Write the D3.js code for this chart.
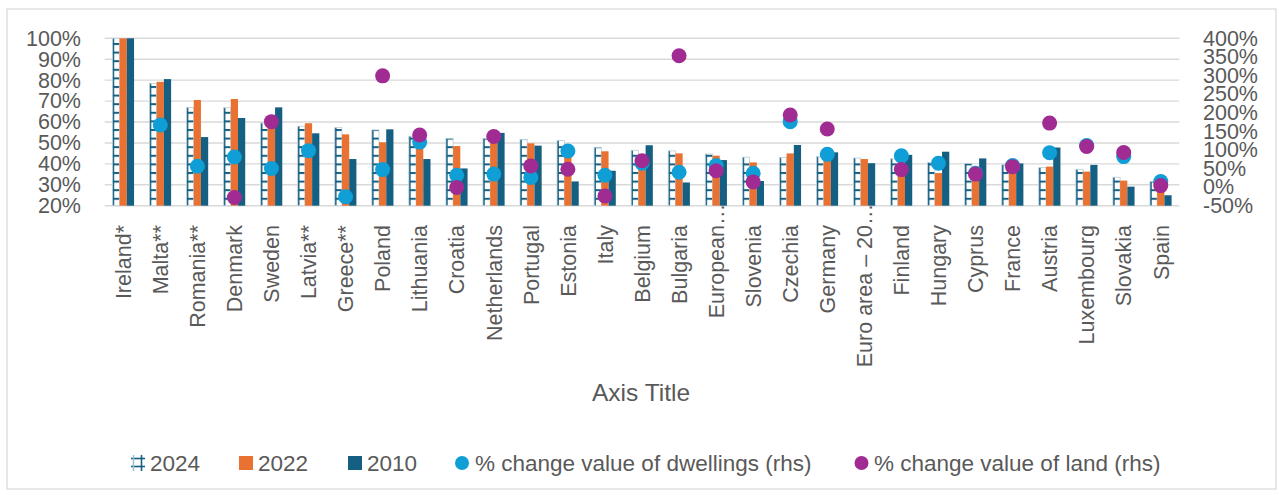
<!DOCTYPE html>
<html><head><meta charset="utf-8">
<script src="https://cdn.jsdelivr.net/npm/d3@7/dist/d3.min.js"></script>
<style>
html,body{margin:0;padding:0;background:#fff;}
svg{display:block;font-family:"Liberation Sans",Arial,sans-serif;}
</style></head>
<body>
<svg id="chart" width="1279" height="495"></svg>
<script>
const categories = ["Ireland*","Malta**","Romania**","Denmark","Sweden","Latvia**","Greece**","Poland","Lithuania","Croatia","Netherlands","Portugal","Estonia","Italy","Belgium","Bulgaria","European…","Slovenia","Czechia","Germany","Euro area – 20…","Finland","Hungary","Cyprus","France","Austria","Luxembourg","Slovakia","Spain"];
const v2024 = [100,78.5,67,66.8,59.5,58,57.3,56.2,53.2,52.2,52.2,51.6,51.2,47.9,46.5,46.2,44.7,43.2,43,43.4,42.8,42.4,40.7,40.2,39.5,38.2,37.4,33.6,31.5];
const v2022 = [100,79.2,70.5,71,62,59.4,54.1,50.3,51,48.5,53,49.8,48,46,43,45,43.9,40.7,45,46,42.3,40,35.6,35,37,38.7,36.3,32,28];
const v2010 = [100,80.5,52.8,61.9,67,54.6,42.3,56.5,42.3,37.8,54.8,48.7,31.6,36.7,48.9,31.1,41.8,31.8,49,45.5,40.3,44.3,45.8,42.6,40.2,47.8,39.5,29.1,25];
const dwellings = [null,167,56,81,50,98,-26,47,121,32,35,26,97,32,64,40,58,37,176,88,null,84,64,37,58,92.5,112,82,15];
const land = [null,null,null,-28,176,null,null,299,140,-1,136,57,48,-24,71,353,44,14,194,156,null,47,null,35,55,172,109,93,4];
const leftTicks = [20,30,40,50,60,70,80,90,100];
const rightTicks = [-50,0,50,100,150,200,250,300,350,400];
const barSeries = ["2024","2022","2010"];
const legendLabels = ["2024","2022","2010","% change value of dwellings (rhs)","% change value of land (rhs)"];
const axisTitle = "Axis Title";

const C = {orange:"#E97132", dark:"#156082", blue:"#0F9ED5", purple:"#A02B93", grid:"#d9d9d9", text:"#595959"};

const svg = d3.select("#chart");
svg.append("rect").attr("width",1279).attr("height",495).attr("fill","#fff");
svg.append("rect").attr("x",7).attr("y",9).attr("width",1269).attr("height",480)
  .attr("fill","none").attr("stroke","#d9d9d9").attr("stroke-width",1.2);

const defs = svg.append("defs");
const pat = defs.append("pattern").attr("id","p2024").attr("patternUnits","userSpaceOnUse")
  .attr("width",8.6).attr("height",8.6);
pat.append("rect").attr("width",8.6).attr("height",8.6).attr("fill","#fff");
pat.append("rect").attr("x",0).attr("y",0).attr("width",8.6).attr("height",2).attr("fill",C.dark);
pat.append("rect").attr("x",0).attr("y",0).attr("width",1.8).attr("height",8.6).attr("fill",C.dark);

const x = d3.scaleBand().domain(categories).range([104.7,1179.3]).paddingInner(0.415).paddingOuter(0.2075);
const xs = d3.scaleBand().domain(barSeries).range([0,x.bandwidth()]);
const yL = d3.scaleLinear().domain([20,100]).range([205.7,38.3]);
const yR = d3.scaleLinear().domain([-50,400]).range([205.7,38.3]);

// gridlines
svg.append("g").selectAll("line").data(leftTicks).join("line")
  .attr("x1",104.7).attr("x2",1179.3).attr("y1",d=>yL(d)).attr("y2",d=>yL(d))
  .attr("stroke",C.grid).attr("stroke-width",1.4);

// left axis
const gl = svg.append("g").attr("transform","translate(81,0)")
  .call(d3.axisLeft(yL).tickValues(leftTicks).tickFormat(d=>d+"%").tickSize(0).tickPadding(0));
gl.select(".domain").remove();
gl.selectAll("text").attr("font-size",21.5).attr("fill",C.text).attr("font-family","Liberation Sans, Arial, sans-serif");

// right axis
const gr = svg.append("g").attr("transform","translate(1203,0)")
  .call(d3.axisRight(yR).tickValues(rightTicks).tickFormat(d=>d+"%").tickSize(0).tickPadding(0));
gr.select(".domain").remove();
gr.selectAll("text").attr("font-size",21.5).attr("fill",C.text).attr("font-family","Liberation Sans, Arial, sans-serif");

// bars
const rows = categories.map((c,i)=>({c, vals:[v2024[i],v2022[i],v2010[i]], dw:dwellings[i], ld:land[i]}));
const groups = svg.append("g").selectAll("g").data(rows).join("g")
  .attr("transform",d=>`translate(${x(d.c)},0)`);
groups.selectAll("rect").data(d=>d.vals.map((v,j)=>({s:barSeries[j],v}))).join("rect")
  .attr("x",d=>xs(d.s)).attr("width",xs.bandwidth())
  .attr("y",d=>yL(d.v)).attr("height",d=>yL(20)-yL(d.v))
  .attr("fill",d=>d.s==="2024"?"url(#p2024)":d.s==="2022"?C.orange:C.dark)
  .attr("stroke",d=>d.s==="2024"?"#b9cdd8":"none").attr("stroke-width",0.8);

// dots
const r = 7.5;
svg.append("g").selectAll("circle").data(rows.filter(d=>d.dw!==null)).join("circle")
  .attr("cx",d=>x(d.c)+x.bandwidth()/2).attr("cy",d=>yR(d.dw)).attr("r",r).attr("fill",C.blue);
svg.append("g").selectAll("circle").data(rows.filter(d=>d.ld!==null)).join("circle")
  .attr("cx",d=>x(d.c)+x.bandwidth()/2).attr("cy",d=>yR(d.ld)).attr("r",r).attr("fill",C.purple);

// category labels
const lab = svg.append("g").selectAll("text").data(categories).join("text")
  .attr("text-anchor","end").attr("dy","0.36em")
  .attr("font-size",21.5).attr("fill",C.text).text(d=>d);
const tmp = svg.append("text").attr("font-size",21.5).text("…");
const ellW = tmp.node().getComputedTextLength(); tmp.remove();
lab.attr("transform",d=>{
  const cx = x(d)+x.bandwidth()/2;
  const yy = d.endsWith("…") ? 225 - ellW : 225;
  return `translate(${cx},${yy}) rotate(-90)`;
});

// axis title
svg.append("text").attr("x",641).attr("y",392).attr("text-anchor","middle").attr("dominant-baseline","central")
  .attr("font-size",24.5).attr("fill",C.text).text(axisTitle);

// legend
const ly = 463;
const lg = svg.append("g");
lg.append("line").attr("x1",131).attr("x2",145).attr("y1",458.5).attr("y2",458.5).attr("stroke",C.dark).attr("stroke-width",1.6);
lg.append("line").attr("x1",131).attr("x2",145).attr("y1",466.5).attr("y2",466.5).attr("stroke",C.dark).attr("stroke-width",1.6);
lg.append("line").attr("x1",133.5).attr("x2",133.5).attr("y1",455).attr("y2",471).attr("stroke","#9fbccc").attr("stroke-width",1.4);
lg.append("line").attr("x1",141.5).attr("x2",141.5).attr("y1",455).attr("y2",471).attr("stroke",C.dark).attr("stroke-width",1.6);
lg.append("rect").attr("x",239).attr("y",456).attr("width",14).attr("height",14).attr("fill",C.orange);
lg.append("rect").attr("x",348).attr("y",456).attr("width",14).attr("height",14).attr("fill",C.dark);
lg.append("circle").attr("cx",462).attr("cy",ly).attr("r",7).attr("fill",C.blue);
lg.append("circle").attr("cx",861.5).attr("cy",ly).attr("r",7).attr("fill",C.purple);
const lx = [150,258,367,475,874];
lg.selectAll("text").data(legendLabels).join("text")
  .attr("x",(d,i)=>lx[i]).attr("y",ly).attr("dominant-baseline","central")
  .attr("font-size",22.5).attr("fill",C.text).text(d=>d);
</script>
</body></html>
